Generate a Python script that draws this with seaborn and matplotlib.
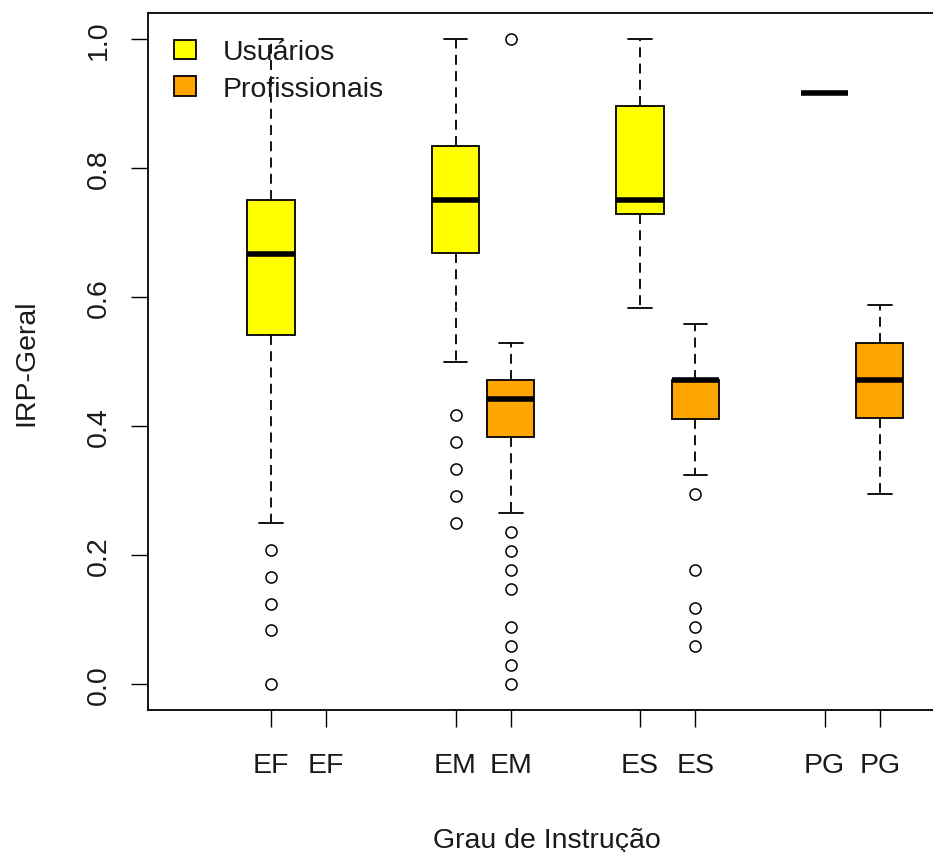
import numpy as np
import pandas as pd
import matplotlib
matplotlib.use("Agg")
import matplotlib.pyplot as plt
import seaborn as sns

# Education levels and respondent groups
levels = ["EF", "EM", "ES", "PG"]
groups = ["Usuários", "Profissionais"]

# IRP-Geral summaries per level (EF, EM, ES, PG): lower whisker, Q1, median, Q3, upper whisker
usu_low = [0.2500, 0.5000, 0.5833, 0.9167]
usu_q1 = [0.5417, 0.6680, 0.7292, 0.9167]
usu_med = [0.6667, 0.7500, 0.7500, 0.9167]
usu_q3 = [0.7500, 0.8333, 0.8958, 0.9167]
usu_high = [1.0000, 1.0000, 1.0000, 0.9167]
usu_out = [
    [0.2083, 0.1667, 0.1250, 0.0833, 0.0000],
    [0.4167, 0.3750, 0.3333, 0.2917, 0.2500],
    [],
    [],
]

prof_low = [np.nan, 0.2647, 0.3235, 0.2941]
prof_q1 = [np.nan, 0.3824, 0.4115, 0.4118]
prof_med = [np.nan, 0.4412, 0.4706, 0.4706]
prof_q3 = [np.nan, 0.4706, 0.4706, 0.5294]
prof_high = [np.nan, 0.5294, 0.5588, 0.5882]
prof_out = [
    [],
    [1.0000, 0.2353, 0.2059, 0.1765, 0.1471, 0.0882, 0.0590, 0.0294, 0.0000],
    [0.2941, 0.1765, 0.1176, 0.0882, 0.0588],
    [],
]

# Box positions on the x axis
positions = {"Usuários": [1.0, 2.0, 3.0, 4.0], "Profissionais": [1.3, 2.3, 3.3, 4.3]}
colors = {"Usuários": "#FFFF00", "Profissionais": "#FFA500"}

# Long-form table: each box sample holds its whisker ends, outliers and a
# weighted block at each quartile so the computed quartiles land on the summary.
block = 20
rows = []
summaries = {
    "Usuários": (usu_low, usu_q1, usu_med, usu_q3, usu_high, usu_out),
    "Profissionais": (prof_low, prof_q1, prof_med, prof_q3, prof_high, prof_out),
}
for g in groups:
    lo, q1, md, q3, hi, out = summaries[g]
    for i in range(len(levels)):
        if np.isnan(lo[i]):
            continue
        vals = list(out[i]) + [lo[i]] + [q1[i]] * block + [md[i]] * block + [q3[i]] * block + [hi[i]]
        rows += [(positions[g][i], g, v) for v in vals]
df = pd.DataFrame(rows, columns=["pos", "grupo", "IRP"])

sns.set_style("ticks")
plt.rcParams["font.family"] = ["Liberation Sans", "DejaVu Sans"]
plt.rcParams["text.color"] = "#1a1a1a"
plt.rcParams["axes.labelcolor"] = "#1a1a1a"
plt.rcParams["xtick.color"] = "black"
plt.rcParams["ytick.color"] = "black"
plt.rcParams["xtick.labelcolor"] = "#1a1a1a"
plt.rcParams["ytick.labelcolor"] = "#1a1a1a"

fig = plt.figure(figsize=(9.33, 8.53), dpi=100)
ax = fig.add_axes([148 / 933, 1 - 711 / 853, (945 - 148) / 933, (711 - 14) / 853])

sns.boxplot(
    data=df, x="pos", y="IRP", hue="grupo", hue_order=groups,
    palette=colors, native_scale=True, dodge=False, width=0.85,
    saturation=1, linecolor="black", linewidth=1.3, whis=1.5,
    fliersize=8,
    flierprops=dict(marker="o", markerfacecolor="none",
                    markeredgecolor="black", markeredgewidth=1.1),
    medianprops=dict(linewidth=4.0, solid_capstyle="butt"),
    whiskerprops=dict(linestyle=(0, (5.5, 3.5))),
    ax=ax,
)

tick_pos = sorted(positions["Usuários"] + positions["Profissionais"])
tick_lab = [lv for lv in levels for _ in range(2)]
ax.set_xticks(tick_pos)
ax.set_xticklabels(tick_lab)
ax.set_yticks([0.0, 0.2, 0.4, 0.6, 0.8, 1.0])
ax.set_yticklabels(["0.0", "0.2", "0.4", "0.6", "0.8", "1.0"], rotation=90, va="center")
ax.set_xlim(0.3333, 1 + (945 - 271) / 184.5)
ax.set_ylim(-0.04, 1.04)

ax.tick_params(length=12.2, width=1.0, labelsize=20.5)
ax.tick_params(axis="x", pad=18)
ax.tick_params(axis="y", pad=14)
for s in ax.spines.values():
    s.set_linewidth(1.3)
    s.set_color("black")

ax.set_xlabel("Grau de Instrução", fontsize=20.5, labelpad=35)
ax.set_ylabel("IRP-Geral", fontsize=20.5, labelpad=33)

sns.move_legend(
    ax, "upper left", bbox_to_anchor=(0.033, 0.962), frameon=False, title=None,
    handlelength=0.75, handleheight=0.68, handletextpad=0.95, labelspacing=0.37,
    borderpad=0, borderaxespad=0, fontsize=20.5,
)

fig.savefig("out.png", dpi=100)
